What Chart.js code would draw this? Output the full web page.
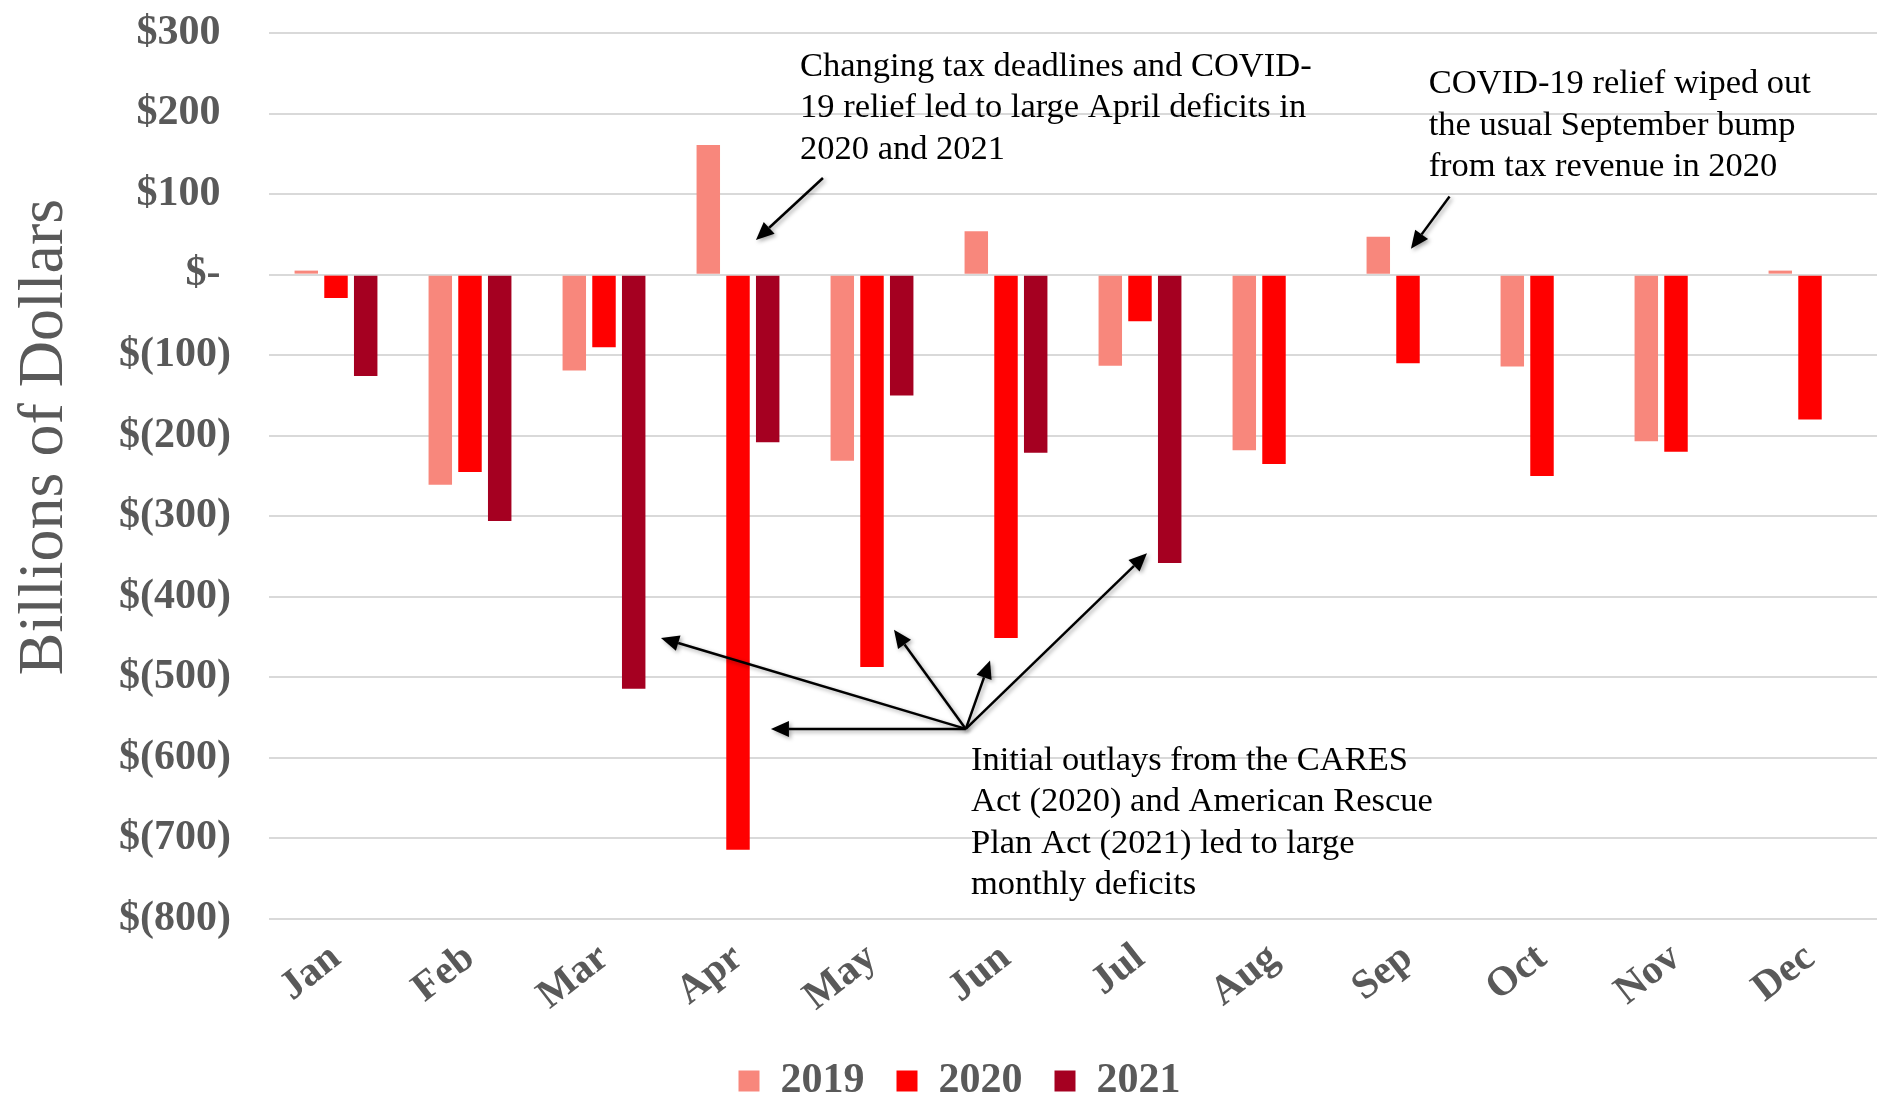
<!DOCTYPE html>
<html lang="en">
<head>
<meta charset="UTF-8">
<title>Monthly Deficits 2019-2021</title>
<script src="https://cdn.jsdelivr.net/npm/chart.js"></script>
<style>
  body { margin: 0; background: #fff; }
  .chart-box { width: 1879px; height: 1096px; position: relative; }
</style>
</head>
<body>
<div class="chart-box"><canvas id="deficitChart"></canvas></div>
<script>
// monthly surplus (+) / deficit (-), billions of dollars
const months = ['Jan', 'Feb', 'Mar', 'Apr', 'May', 'Jun', 'Jul', 'Aug', 'Sep', 'Oct', 'Nov', 'Dec'];
const deficit2019 = [5, -261, -119, 161, -231, 54, -113, -218, 47, -114, -207, 5];
const deficit2020 = [-29, -245, -90, -714, -487, -451, -58, -235, -110, -250, -220, -180];
const deficit2021 = [-126, -306, -514, -208, -150, -221, -358, null, null, null, null, null];
const yMin = -800, yMax = 300, yStep = 100;

const grey = '#595959';
const serif = '"Liberation Serif", "Times New Roman", serif';

// callouts, placed in data units (category index, dollars)
const notes = [
  { x: 3.463, y: 247, lines: ['Changing tax deadlines and COVID-', '19 relief led to large April deficits in', '2020 and 2021'] },
  { x: 8.154, y: 225, lines: ['COVID-19 relief wiped out', 'the usual September bump', 'from tax revenue in 2020'] },
  { x: 4.739, y: -615, lines: ['Initial outlays from the CARES', 'Act (2020) and American Rescue', 'Plan Act (2021) led to large', 'monthly deficits'] }
];
const arrows = [
  { from: [3.634, 120], to: [3.134, 43] },
  { from: [8.31, 97], to: [8.022, 32] },
  { from: [4.70, -564], to: [2.425, -451] },
  { from: [4.70, -564], to: [3.246, -564] },
  { from: [4.70, -564], to: [4.164, -441] },
  { from: [4.70, -564], to: [4.881, -479] },
  { from: [4.70, -564], to: [6.052, -346] }
];

function drawArrow(ctx, x1, y1, x2, y2) {
  const ang = Math.atan2(y2 - y1, x2 - x1);
  const len = 18, half = 8;
  const bx = x2 - len * Math.cos(ang), by = y2 - len * Math.sin(ang);
  ctx.beginPath();
  ctx.moveTo(x1, y1);
  ctx.lineTo(bx, by);
  ctx.stroke();
  ctx.beginPath();
  ctx.moveTo(x2, y2);
  ctx.lineTo(bx + half * Math.sin(ang), by - half * Math.cos(ang));
  ctx.lineTo(bx - half * Math.sin(ang), by + half * Math.cos(ang));
  ctx.closePath();
  ctx.fill();
}

const calloutPlugin = {
  id: 'callouts',
  afterLayout(chart) {
    // nudge the legend a little right, like the original
    chart.legend.left += 21;
    chart.legend.right += 21;
  },
  afterDraw(chart) {
    const { ctx, scales: { x, y } } = chart;
    ctx.save();

    // axis title
    ctx.fillStyle = grey;
    ctx.font = '64px ' + serif;
    ctx.textAlign = 'center';
    ctx.textBaseline = 'alphabetic';
    ctx.translate(62, 437);
    ctx.rotate(-Math.PI / 2);
    ctx.fillText('Billions of Dollars', 0, 0);
    ctx.setTransform(1, 0, 0, 1, 0, 0);

    // notes
    ctx.fillStyle = '#000';
    ctx.font = '34.5px ' + serif;
    ctx.textAlign = 'left';
    notes.forEach(n => {
      const px = x.getPixelForValue(n.x);
      const py = y.getPixelForValue(n.y);
      n.lines.forEach((t, i) => ctx.fillText(t, px, py + i * 41.5));
    });

    // arrows
    ctx.strokeStyle = '#000';
    ctx.fillStyle = '#000';
    ctx.lineWidth = 2.5;
    ctx.shadowColor = 'rgba(0,0,0,0.35)';
    ctx.shadowBlur = 4;
    ctx.shadowOffsetX = 2;
    ctx.shadowOffsetY = 2;
    arrows.forEach(a => {
      drawArrow(ctx,
        x.getPixelForValue(a.from[0]), y.getPixelForValue(a.from[1]),
        x.getPixelForValue(a.to[0]), y.getPixelForValue(a.to[1]));
    });
    ctx.restore();
  }
};

const ctx = document.getElementById('deficitChart').getContext('2d');
new Chart(ctx, {
  type: 'bar',
  data: {
    labels: months,
    datasets: [
      { label: '2019', data: deficit2019, backgroundColor: '#F8877C' },
      { label: '2020', data: deficit2020, backgroundColor: '#FF0000' },
      { label: '2021', data: deficit2021, backgroundColor: '#A50021' }
    ]
  },
  options: {
    responsive: true,
    maintainAspectRatio: false,
    animation: false,
    categoryPercentage: 0.665,
    barPercentage: 0.79,
    layout: { padding: { top: 33, right: 2, left: 0, bottom: -16 } },
    plugins: {
      tooltip: { enabled: false },
      legend: {
        position: 'bottom',
        labels: {
          boxWidth: 21,
          boxHeight: 21,
          padding: 32,
          color: grey,
          font: { family: serif, size: 42, weight: 'bold' }
        }
      }
    },
    scales: {
      x: {
        grid: { display: false },
        border: { display: false },
        ticks: {
          color: grey,
          font: { family: serif, size: 41, weight: 'bold' },
          minRotation: 38,
          maxRotation: 38,
          autoSkip: false,
          padding: 7
        },
        afterFit(scale) { scale.height = 1096 + 16 - 919 - scale.chart.legend.height; }
      },
      y: {
        min: yMin,
        max: yMax,
        grid: { color: '#D9D9D9', lineWidth: 2, drawTicks: false },
        border: { display: false },
        ticks: {
          stepSize: yStep,
          padding: 38,
          color: grey,
          font: { family: serif, size: 42, weight: 'bold' },
          callback: v => v > 0 ? '$' + v + ' ' : (v === 0 ? '$- ' : '$(' + (-v) + ')')
        },
        afterFit(scale) {
          scale.width = 269;
          scale.paddingTop = 0;
          scale.paddingBottom = 0;
        }
      }
    }
  },
  plugins: [calloutPlugin]
});
</script>
</body>
</html>
